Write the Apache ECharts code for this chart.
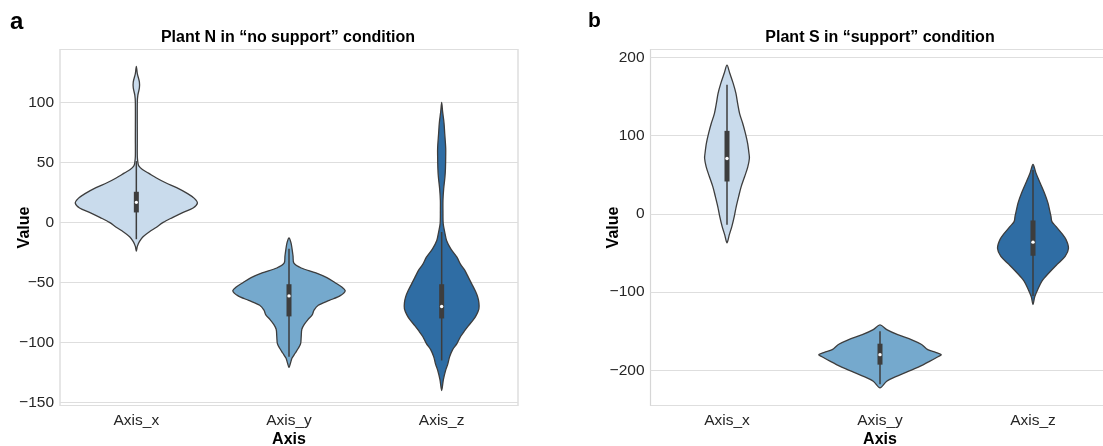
<!DOCTYPE html>
<html lang="en">
<head>
<meta charset="UTF-8">
<title>Violin</title>
<script src="https://cdn.jsdelivr.net/npm/echarts@6/dist/echarts.min.js"></script>
<style>
  html, body { margin: 0; padding: 0; background: #fff; }
  #main { width: 1103px; height: 446px; }
</style>
</head>
<body>
<div id="main"></div>
<script>
var categories = ['Axis_x', 'Axis_y', 'Axis_z'];
var colors = ['#c9dbec', '#75a9cd', '#2f6da4'];

// panel a (Plant N, no support): value levels + relative density (1 = widest violin)
var nxLevels  = [130, 124, 117, 112, 106, 100, 70, 55, 50, 47, 44, 41, 37, 33, 29, 24, 20, 16, 12, 8, 4, 0, -4, -8, -12, -16, -20, -24];
var nxDensity = [0, .016, .05, .05, .025, .016, .016, .016, .025, .04, .1, .2, .33, .48, .66, .84, .95, 1, .93, .75, .59, .44, .33, .21, .11, .05, .016, 0];
var nyLevels  = [-13, -17, -22, -28, -34, -38, -42, -46, -50, -54, -57, -61, -65, -69, -73, -77, -81, -85, -89, -95, -101, -105, -109, -113, -117, -121];
var nyDensity = [0, .033, .05, .066, .08, .2, .44, .62, .75, .87, .92, .84, .66, .48, .41, .38, .31, .25, .21, .2, .19, .15, .1, .05, .025, 0];
var nzLevels  = [100, 92, 83, 74, 62, 55, 45, 38, 28, 18, 10, -1, -8, -15, -22, -29, -35, -40, -46, -51, -57, -62, -67, -72, -77, -81, -86, -90, -95, -101, -106, -112, -118, -123, -131, -140];
var nzDensity = [0, .016, .038, .05, .066, .066, .062, .054, .033, .021, .021, .025, .05, .08, .15, .25, .31, .38, .44, .49, .55, .59, .61, .61, .57, .52, .44, .38, .31, .25, .18, .13, .1, .066, .028, 0];
// [lower whisker, q1, median, q3, upper whisker]
var nBoxes = [[-14, 8.3, 16.7, 25.5, 51], [-112, -78.3, -61.2, -51.5, -22], [-115, -80, -70, -51.5, -8]];

// panel b (Plant S, support)
var sxLevels  = [190, 180, 167, 154, 141, 128, 116, 103, 90, 78, 71, 60, 48, 35, 22, 9, -3, -16, -27, -37];
var sxDensity = [0, .044, .1, .146, .174, .206, .255, .3, .337, .358, .366, .34, .29, .233, .19, .15, .12, .08, .037, 0];
var syLevels  = [-142, -148, -154.5, -161, -167, -173.6, -177, -180, -183, -188.6, -195, -201.4, -207.7, -214, -222.5];
var syDensity = [0, .11, .29, .52, .68, .78, .91, 1, .94, .81, .65, .46, .27, .11, 0];
var szLevels  = [63, 52, 39, 26, 14, 3, -3, -10, -16, -25, -33, -44, -54.5, -65, -76, -86, -97, -106, -116];
var szDensity = [0, .049, .119, .19, .244, .276, .293, .309, .374, .47, .54, .58, .525, .39, .255, .146, .076, .028, 0];
var sBoxes = [[-14, 41.3, 70.6, 106, 165], [-218, -192.8, -180, -166, -150], [-105, -53.6, -36.2, -8.5, 56]];

var FONT = "'Liberation Sans', Arial, sans-serif";
var DARK = '#3d3d3d';

function violinSeries(idx, levels, dens, boxes) {
  return {
    type: 'custom',
    xAxisIndex: idx,
    yAxisIndex: idx,
    data: categories.map(function (c, i) { return [i]; }),
    renderItem: function (params, api) {
      var i = params.dataIndex;
      var half = api.size([1, 0])[0] * 0.4;
      var lv = levels[i], d = dens[i];
      var right = [], left = [];
      for (var k = 0; k < lv.length; k++) {
        var p = api.coord([i, lv[k]]);
        right.push([p[0] + d[k] * half, p[1]]);
        if (k > 0 && k < lv.length - 1) left.unshift([p[0] - d[k] * half, p[1]]);
      }
      var b = boxes[i];
      var cx = api.coord([i, 0])[0];
      var y = b.map(function (v) { return api.coord([i, v])[1]; });
      return {
        type: 'group',
        children: [
          { type: 'polygon', shape: { points: right.concat(left), smooth: 0.3 },
            style: { fill: colors[i], stroke: DARK, lineWidth: 1.3 } },
          { type: 'line', shape: { x1: cx, y1: y[0], x2: cx, y2: y[4] },
            style: { stroke: DARK, lineWidth: 1.5 } },
          { type: 'rect', shape: { x: cx - 2.5, y: y[3], width: 5, height: y[1] - y[3] },
            style: { fill: DARK } },
          { type: 'circle', shape: { cx: cx, cy: y[2], r: 1.7 }, style: { fill: '#fff' } }
        ]
      };
    }
  };
}

function xAxisFor(idx) {
  return {
    type: 'category', gridIndex: idx, data: categories,
    axisLine: { show: false }, axisTick: { show: false },
    axisLabel: { fontSize: 15.5, color: '#262626', margin: 7, fontFamily: FONT },
    name: 'Axis', nameLocation: 'middle', nameGap: 26.5, nameMoveOverlap: false,
    nameTextStyle: { fontSize: 16, fontWeight: 'bold', color: '#000', fontFamily: FONT }
  };
}

function yAxisFor(idx, min, max, step, gap) {
  return {
    type: 'value', gridIndex: idx, min: min, max: max,
    axisLine: { show: false }, axisTick: { show: false },
    axisLabel: {
      fontSize: 15.5, color: '#262626', margin: 6, fontFamily: FONT,
      formatter: function (v) { return v % step === 0 ? (v < 0 ? '\u2212' + (-v) : '' + v) : ''; }
    },
    splitLine: { lineStyle: { color: '#dedede', width: 1 } },
    name: 'Value', nameLocation: 'middle', nameGap: gap, nameRotate: 90, nameMoveOverlap: false,
    nameTextStyle: { fontSize: 16, fontWeight: 'bold', color: '#000', fontFamily: FONT }
  };
}

var chart = echarts.init(document.getElementById('main'), null, { renderer: 'canvas' });

chart.setOption({
  animation: false,
  backgroundColor: '#fff',
  grid: [
    { left: 60, top: 49.5, width: 458, height: 356, outerBoundsMode: 'none', containLabel: false,
      show: true, borderColor: '#d6d6d6', borderWidth: 1.2, backgroundColor: 'transparent' },
    { left: 650.5, top: 49.5, width: 459, height: 356, outerBoundsMode: 'none', containLabel: false,
      show: true, borderColor: '#d6d6d6', borderWidth: 1.2, backgroundColor: 'transparent' }
  ],
  xAxis: [xAxisFor(0), xAxisFor(1)],
  yAxis: [yAxisFor(0, -152.5, 144, 50, 27), yAxisFor(1, -245, 210, 100, 29)],
  graphic: [
    { type: 'text', x: 10, y: 10.5, style: { text: 'a', font: "bold 24px " + FONT, fill: '#000' } },
    { type: 'text', x: 588, y: 11, style: { text: 'b', font: "bold 21px " + FONT, fill: '#000' } },
    { type: 'text', x: 288, y: 29.5, style: { text: 'Plant N in \u201cno support\u201d condition', font: "bold 16px " + FONT, fill: '#000', align: 'center' } },
    { type: 'text', x: 880, y: 29.5, style: { text: 'Plant S in \u201csupport\u201d condition', font: "bold 16px " + FONT, fill: '#000', align: 'center' } }
  ],
  series: [
    violinSeries(0, [nxLevels, nyLevels, nzLevels], [nxDensity, nyDensity, nzDensity], nBoxes),
    violinSeries(1, [sxLevels, syLevels, szLevels], [sxDensity, syDensity, szDensity], sBoxes)
  ]
});
</script>
</body>
</html>
